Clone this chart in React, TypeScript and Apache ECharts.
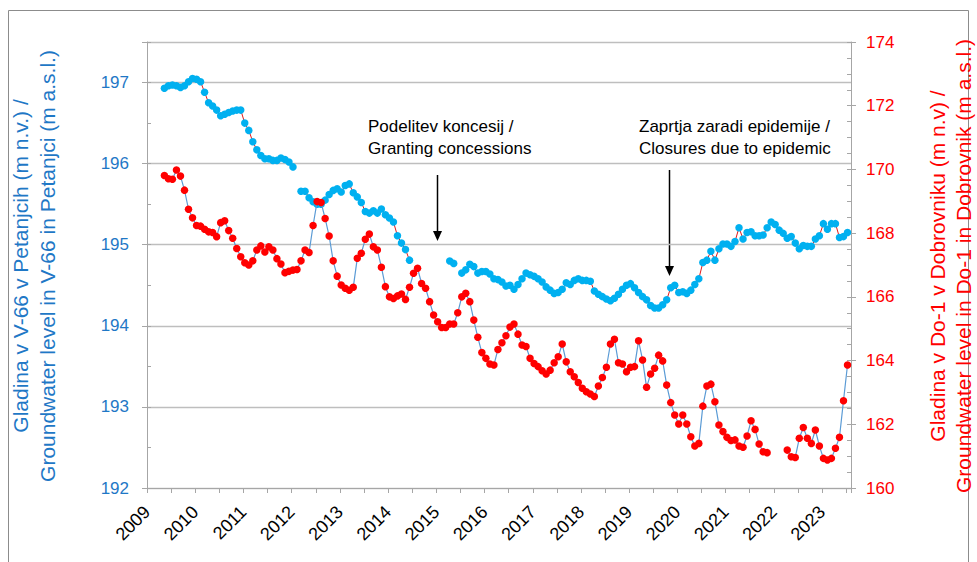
import React, { useEffect, useRef } from "react";
import * as echarts from "echarts";

// Monthly series, first value = May 2009, last = July 2023 (null = no measurement)
const START_YEAR = 2009;
const START_MONTH = 5;

const v66Level: (number | null)[] = [
  196.93, 196.96, 196.97, 196.96, 196.94, 196.96, 197.01, 197.05, 197.04, 197.01,
  196.88, 196.75, 196.71, 196.66, 196.59, 196.61, 196.63, 196.65, 196.66, 196.66,
  196.5, 196.41, 196.27, 196.17, 196.1, 196.06, 196.06, 196.04, 196.04, 196.07,
  196.05, 196.02, 195.96, null, 195.66, 195.66, 195.58, 195.53, 195.5, 195.5,
  195.55, 195.62, 195.67, 195.69, 195.65, 195.73, 195.75, 195.64, 195.59, 195.52,
  195.41, 195.39, 195.42, 195.39, 195.44, 195.37, 195.33, 195.28, 195.11, 195.02,
  194.94, 194.81, null, null, null, null, null, null, null, null,
  null, 194.8, 194.77, null, 194.65, 194.69, 194.76, 194.73, 194.65, 194.67,
  194.67, 194.64, 194.58, 194.57, 194.54, 194.49, 194.5, 194.45, 194.51, 194.58,
  194.65, 194.63, 194.61, 194.58, 194.54, 194.48, 194.44, 194.4, 194.41, 194.45,
  194.53, 194.51, 194.56, 194.58, 194.56, 194.56, 194.55, 194.43, 194.39, 194.36,
  194.33, 194.31, 194.34, 194.39, 194.45, 194.5, 194.52, 194.47, 194.41, 194.36,
  194.32, 194.25, 194.22, 194.22, 194.26, 194.32, 194.47, 194.5, 194.41, 194.42,
  194.4, 194.44, 194.51, 194.58, 194.78, 194.81, 194.92, 194.81, 194.95, 195.01,
  195.01, 194.98, 195.04, 195.21, 195.07, 195.15, 195.16, 195.11, 195.11, 195.12,
  195.21, 195.28, 195.25, 195.18, 195.14, 195.08, 195.1, 195.02, 194.95, 194.99,
  194.98, 194.98, 195.07, 195.11, 195.26, 195.19, 195.26, 195.26, 195.09, 195.1,
  195.15,
];

const do1Level: (number | null)[] = [
  169.81, 169.71, 169.69, 169.98, 169.79, 169.35, 168.75, 168.48, 168.24, 168.22,
  168.12, 168.04, 168.02, 167.89, 168.33, 168.39, 168.08, 167.84, 167.52, 167.26,
  167.07, 167.0, 167.13, 167.47, 167.6, 167.41, 167.57, 167.47, 167.2, 167.03,
  166.76, 166.8, 166.84, 166.86, 167.13, 167.47, 167.39, 168.24, 168.99, 168.96,
  168.46, 167.91, 167.13, 166.65, 166.37, 166.27, 166.21, 166.3, 167.21, 167.37,
  167.81, 167.97, 167.57, 167.47, 166.93, 166.32, 166.0, 165.95, 166.03, 166.09,
  165.92, 166.3, 166.74, 166.9, 166.42, 166.27, 165.85, 165.43, 165.22, 165.04,
  165.04, 165.15, 165.15, 165.5, 166.0, 166.11, 165.85, 165.27, 164.73, 164.25,
  164.07, 163.89, 163.86, 164.35, 164.56, 164.78, 165.05, 165.15, 164.83, 164.49,
  164.44, 164.07, 163.91, 163.81, 163.68, 163.58, 163.7, 163.93, 164.12, 164.52,
  163.96, 163.65, 163.49, 163.31, 163.13, 163.02, 162.95, 162.87, 163.2, 163.47,
  163.79, 164.52, 164.67, 163.93, 163.89, 163.65, 163.79, 163.81, 164.62, 164.02,
  163.16, 163.58, 163.76, 164.17, 163.99, 163.23, 162.68, 162.29, 162.01, 162.29,
  162.01, 161.61, 161.32, 161.4, 162.57, 163.2, 163.26, 162.71, 161.98, 161.77,
  161.59, 161.49, 161.51, 161.32, 161.28, 161.63, 162.11, 161.84, 161.38, 161.14,
  161.11, null, null, null, null, 161.19, 160.98, 160.96, 161.56, 161.9,
  161.56, 161.4, 161.82, 161.32, 160.93, 160.88, 160.93, 161.25, 161.59, 162.74,
  163.86,
];

const yearLabels = [2009, 2010, 2011, 2012, 2013, 2014, 2015, 2016, 2017, 2018, 2019, 2020, 2021, 2022, 2023];
const leftTicks = [192, 193, 194, 195, 196, 197];
const rightTicks = [160, 162, 164, 166, 168, 170, 172, 174];

const leftTitle = ["Gladina v V-66 v Petanjcih (m n.v.) /", "Groundwater level in V-66 in Petanjci (m a.s.l.)"];
const rightTitle = ["Gladina v Do-1 v Dobrovniku (m n.v) /", "Groundwater level in Do-1 in Dobrovnik (m a.s.l.)"];
const note1 = ["Podelitev koncesij /", "Granting concessions"];
const note2 = ["Zaprtja zaradi epidemije /", "Closures due to epidemic"];

const BLUE_TEXT = "#1F78C6";
const RED_TEXT = "#FF0000";
const FONT = '"Liberation Sans", Arial, sans-serif';

function monthX(i: number): number {
  const m = START_MONTH - 1 + i;
  return START_YEAR + (m + 0.33) / 12;
}

function toPairs(arr: (number | null)[]) {
  return arr.map((v, i) => [monthX(i), v === null ? "-" : v]);
}

const isInt = (v: number) => Math.abs(v - Math.round(v)) < 1e-6;

export default function App() {
  const ref = useRef<HTMLDivElement>(null);
  useEffect(() => {
    if (!ref.current) return;
    const chart = echarts.init(ref.current, undefined, { renderer: "svg" });
    const gray = "#A6A6A6";
    const grid = "#BEBEBE";
    const textBlock = (lines: string[], x: number, y0: number, gap: number) =>
      lines.map((t, k) => ({
        type: "text",
        x,
        y: y0 + k * gap,
        style: { text: t, fill: "#000", font: `17px ${FONT}`, align: "left", verticalAlign: "middle" },
      }));
    const vTitle = (lines: string[], xs: number[], color: string) =>
      lines.map((t, k) => ({
        type: "text",
        x: xs[k],
        y: 266,
        rotation: Math.PI / 2,
        style: { text: t, fill: color, font: `21px ${FONT}`, align: "center", verticalAlign: "middle" },
      }));
    const arrow = (x: number, y1: number, y2: number) => [
      { type: "line", shape: { x1: x, y1, x2: x, y2: y2 - 8 }, style: { stroke: "#000", lineWidth: 1.5 } },
      { type: "polygon", shape: { points: [[x - 4.5, y2 - 10], [x + 4.5, y2 - 10], [x, y2]] }, style: { fill: "#000" } },
    ];

    chart.setOption({
      animation: false,
      textStyle: { fontFamily: FONT },
      grid: { left: 147, right: 126, top: 42, bottom: 74, containLabel: false },
      xAxis: {
        type: "value",
        min: yearLabels[0],
        max: 2023.6,
        interval: 0.5,
        axisLine: { show: true, lineStyle: { color: gray, width: 1 } },
        axisTick: { show: true, length: 5, lineStyle: { color: gray } },
        axisLabel: {
          rotate: 45,
          fontSize: 18,
          color: "#000",
          margin: 21,
          hideOverlap: false,
          formatter: (v: number) => (isInt(v) && yearLabels.includes(Math.round(v)) ? String(Math.round(v)) : ""),
        },
        splitLine: { show: false },
      },
      yAxis: [
        {
          type: "value",
          position: "left",
          min: leftTicks[0],
          max: 197.5,
          interval: 1,
          axisLine: { show: true, lineStyle: { color: gray } },
          axisTick: { show: true, length: 5, lineStyle: { color: gray } },
          axisLabel: {
            color: BLUE_TEXT,
            fontSize: 17,
            margin: 18,
            formatter: (v: number) => (isInt(v) && leftTicks.includes(Math.round(v)) ? String(Math.round(v)) : ""),
          },
          splitLine: { show: true, lineStyle: { color: grid, width: 1.3 } },
        },
        {
          type: "value",
          position: "right",
          min: rightTicks[0],
          max: rightTicks[rightTicks.length - 1],
          interval: 2,
          axisLine: { show: true, lineStyle: { color: gray } },
          axisTick: { show: true, length: 5, lineStyle: { color: gray } },
          axisLabel: {
            color: RED_TEXT,
            fontSize: 17,
            margin: 15,
            formatter: (v: number) => String(v),
          },
          splitLine: { show: false },
        },
        {
          type: "value",
          position: "left",
          min: leftTicks[0],
          max: 197.5,
          interval: 0.5,
          axisLine: { show: false },
          axisTick: { show: true, inside: true, length: 4, lineStyle: { color: gray } },
          axisLabel: { show: false },
          splitLine: { show: false },
        },
        {
          type: "value",
          position: "right",
          min: rightTicks[0],
          max: rightTicks[rightTicks.length - 1],
          interval: 0.5,
          axisLine: { show: false },
          axisTick: { show: true, inside: true, length: 4, lineStyle: { color: gray } },
          axisLabel: { show: false },
          splitLine: { show: false },
        },
      ],
      series: [
        {
          type: "line",
          name: "V-66",
          yAxisIndex: 0,
          data: toPairs(v66Level),
          symbol: "circle",
          symbolSize: 7.5,
          showAllSymbol: true,
          connectNulls: false,
          itemStyle: { color: "#00B0F0" },
          lineStyle: { color: "#E01818", width: 1 },
          z: 2,
        },
        {
          type: "line",
          name: "Do-1",
          yAxisIndex: 1,
          data: toPairs(do1Level),
          symbol: "circle",
          symbolSize: 7.5,
          showAllSymbol: true,
          connectNulls: false,
          itemStyle: { color: "#FF0000" },
          lineStyle: { color: "#5B9BD5", width: 1.2 },
          z: 3,
        },
      ],
      graphic: [
        { type: "rect", shape: { x: 8.5, y: 10.5, width: 960, height: 560 }, style: { fill: "none", stroke: "#8C8C8C", lineWidth: 1 }, silent: true },
        ...vTitle(leftTitle, [20, 47], BLUE_TEXT),
        ...vTitle(rightTitle, [937, 963], RED_TEXT),
        ...textBlock(note1, 368, 126, 22),
        ...textBlock(note2, 639, 126, 22),
        ...arrow(437.5, 175, 241),
        ...arrow(669.5, 170, 276),
      ],
    });
    return () => chart.dispose();
  }, []);
  return <div ref={ref} style={{ position: "fixed", left: 0, top: 0, width: 977, height: 562, background: "#fff" }} />;
}
